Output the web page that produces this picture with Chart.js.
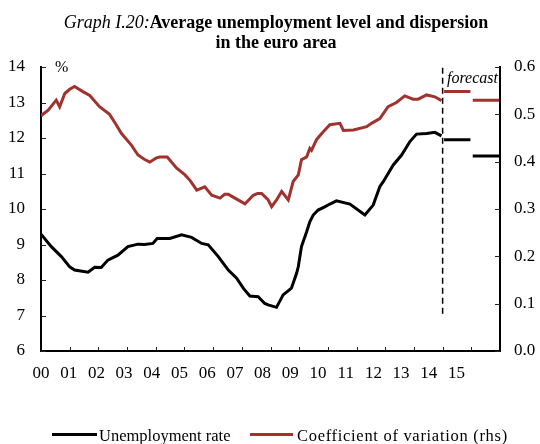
<!DOCTYPE html>
<html>
<head>
<meta charset="utf-8">
<script src="https://cdn.jsdelivr.net/npm/chart.js@4"></script>
<style>
  html, body { margin: 0; padding: 0; background: #fff; }
  canvas { display: block; }
</style>
</head>
<body>
<canvas id="chart" width="540" height="444"></canvas>
<script>
// years since 2000 (decimal)
const unempYears = [0, 0.36, 0.71, 1.0, 1.17, 1.64, 1.87, 2.1, 2.33, 2.68, 3.03, 3.38, 3.61, 3.9, 4.05, 4.49, 4.9, 5.25, 5.6, 5.83, 6.18, 6.53, 6.82, 7.05, 7.28, 7.57, 7.8, 7.92, 8.21, 8.44, 8.73, 8.91, 8.97, 9.08, 9.26, 9.37, 9.49, 9.66, 9.89, 10.07, 10.3, 10.77, 11.29, 11.58, 11.81, 11.93, 12.28, 12.57, 12.86, 13.09, 13.44, 13.73, 13.96];
const unempRate = [9.29, 8.94, 8.66, 8.37, 8.28, 8.22, 8.36, 8.35, 8.56, 8.70, 8.94, 9.01, 9.0, 9.03, 9.17, 9.17, 9.27, 9.2, 9.03, 8.99, 8.66, 8.28, 8.05, 7.77, 7.55, 7.53, 7.34, 7.30, 7.23, 7.58, 7.77, 8.19, 8.38, 8.94, 9.36, 9.64, 9.83, 9.97, 10.06, 10.14, 10.23, 10.14, 9.83, 10.11, 10.63, 10.77, 11.24, 11.52, 11.90, 12.11, 12.13, 12.16, 12.06];

const cvYears = [0, 0.25, 0.53, 0.65, 0.83, 1.0, 1.17, 1.46, 1.7, 2.04, 2.39, 2.6, 2.8, 3.15, 3.38, 3.6, 3.79, 4.02, 4.15, 4.4, 4.73, 5.02, 5.2, 5.43, 5.71, 5.95, 6.24, 6.4, 6.53, 6.76, 7.11, 7.4, 7.55, 7.69, 7.92, 8.04, 8.2, 8.39, 8.62, 8.79, 8.97, 9.08, 9.26, 9.37, 9.43, 9.61, 9.84, 10.07, 10.42, 10.54, 10.89, 11.35, 11.55, 11.81, 12.1, 12.39, 12.68, 12.97, 13.15, 13.44, 13.73, 13.96];
const cvValues = [0.497, 0.509, 0.530, 0.516, 0.544, 0.553, 0.559, 0.548, 0.540, 0.516, 0.500, 0.480, 0.460, 0.435, 0.414, 0.405, 0.399, 0.408, 0.410, 0.410, 0.386, 0.372, 0.360, 0.340, 0.347, 0.329, 0.323, 0.331, 0.331, 0.323, 0.311, 0.329, 0.333, 0.333, 0.319, 0.305, 0.318, 0.337, 0.319, 0.358, 0.372, 0.404, 0.410, 0.428, 0.424, 0.447, 0.463, 0.478, 0.481, 0.466, 0.467, 0.474, 0.482, 0.491, 0.516, 0.525, 0.539, 0.532, 0.532, 0.541, 0.537, 0.529];

// annual forecasts for 2014 and 2015
const forecastYears = [14, 15];
const forecastUnemp = [11.95, 11.49];
const forecastCv = [0.548, 0.530];
const forecastMarkerRange = [7.05, 14];

const yearLabels = ['00', '01', '02', '03', '04', '05', '06', '07', '08', '09', '10', '11', '12', '13', '14', '15'];

const SERIF = '"Liberation Serif", "Times New Roman", serif';
const RED = '#a0332f';

function toPoints(xs, ys) {
  return xs.map((x, i) => ({ x: x, y: ys[i] }));
}

function forecastPoints(vals) {
  const out = [];
  forecastYears.forEach((yr, i) => {
    out.push({ x: yr + 0.05, y: vals[i] }, { x: yr + 0.97, y: vals[i] }, { x: yr + 1, y: null });
  });
  return out;
}

const extras = {
  id: 'extras',
  afterDraw(chart) {
    const { ctx, chartArea: a, scales } = chart;
    ctx.save();

    // inward tick marks
    ctx.strokeStyle = '#222';
    ctx.lineWidth = 1;
    ctx.beginPath();
    scales.y.ticks.forEach(t => {
      const py = Math.round(scales.y.getPixelForValue(t.value)) + 0.5;
      ctx.moveTo(a.left, py); ctx.lineTo(a.left + 5, py);
    });
    scales.y2.ticks.forEach(t => {
      const py = Math.round(scales.y2.getPixelForValue(t.value)) + 0.5;
      ctx.moveTo(a.right - 5, py); ctx.lineTo(a.right, py);
    });
    scales.x.ticks.forEach(t => {
      if (t.value <= 0 || t.value >= 16) return;
      const px = Math.round(scales.x.getPixelForValue(t.value)) + 0.5;
      ctx.moveTo(px, a.bottom); ctx.lineTo(px, a.bottom - 4);
    });
    ctx.stroke();

    ctx.fillStyle = '#000';
    ctx.textBaseline = 'alphabetic';

    // title
    const part1 = 'Graph I.20:';
    const part2 = 'Average unemployment level and dispersion';
    ctx.font = 'italic 18px ' + SERIF;
    const w1 = ctx.measureText(part1).width;
    ctx.font = 'bold 18px ' + SERIF;
    const w2 = ctx.measureText(part2).width;
    const x0 = 276 - (w1 + w2) / 2;
    ctx.textAlign = 'left';
    ctx.font = 'italic 18px ' + SERIF;
    ctx.fillText(part1, x0, 28);
    ctx.font = 'bold 18px ' + SERIF;
    ctx.fillText(part2, x0 + w1, 28);
    ctx.textAlign = 'center';
    ctx.fillText('in the euro area', 276, 47.5);

    // unit and forecast notes
    ctx.textAlign = 'left';
    ctx.font = '16px ' + SERIF;
    ctx.fillText('%', 55, 72);
    ctx.font = 'italic 16px ' + SERIF;
    ctx.fillText('forecast', 447, 83);

    // legend
    ctx.font = '16.5px ' + SERIF;
    ctx.lineWidth = 3;
    ctx.strokeStyle = '#000';
    ctx.beginPath(); ctx.moveTo(52, 434.5); ctx.lineTo(97, 434.5); ctx.stroke();
    ctx.fillText('Unemployment rate', 99, 441);
    ctx.strokeStyle = RED;
    ctx.beginPath(); ctx.moveTo(250, 434.5); ctx.lineTo(293, 434.5); ctx.stroke();
    ctx.letterSpacing = '0.7px';
    ctx.fillText('Coefficient of variation (rhs)', 297, 441);

    ctx.restore();
  }
};

const tickFont = { family: SERIF, size: 17 };

new Chart(document.getElementById('chart'), {
  type: 'line',
  data: {
    datasets: [
      {
        label: 'Unemployment rate',
        data: toPoints(unempYears, unempRate),
        borderColor: '#000', borderWidth: 3, pointRadius: 0, tension: 0,
        xAxisID: 'x', yAxisID: 'y'
      },
      {
        label: 'Coefficient of variation (rhs)',
        data: toPoints(cvYears, cvValues),
        borderColor: RED, borderWidth: 3, pointRadius: 0, tension: 0,
        xAxisID: 'x', yAxisID: 'y2'
      },
      {
        label: 'Unemployment forecast',
        data: forecastPoints(forecastUnemp),
        borderColor: '#000', borderWidth: 3, pointRadius: 0, spanGaps: false,
        xAxisID: 'x', yAxisID: 'y'
      },
      {
        label: 'CV forecast',
        data: forecastPoints(forecastCv),
        borderColor: RED, borderWidth: 3, pointRadius: 0, spanGaps: false,
        xAxisID: 'x', yAxisID: 'y2'
      },
      {
        label: 'forecast start',
        data: forecastMarkerRange.map(v => ({ x: forecastYears[0], y: v })),
        borderColor: '#000', borderWidth: 1.5, borderDash: [6, 4], pointRadius: 0,
        xAxisID: 'x', yAxisID: 'y'
      }
    ]
  },
  options: {
    responsive: false,
    animation: false,
    devicePixelRatio: 1,
    layout: { padding: { top: 67, left: 0, right: 0, bottom: 0 } },
    plugins: { legend: { display: false }, tooltip: { enabled: false } },
    scales: {
      x: {
        type: 'linear', position: 'bottom', min: 0, max: 16, weight: 0,
        ticks: { stepSize: 1, display: false },
        grid: { drawOnChartArea: false, drawTicks: false },
        border: { color: '#000', width: 2 },
        afterFit: s => { s.height = 0; }
      },
      xl: {
        type: 'linear', position: 'bottom', min: 0, max: 16.57, weight: 1,
        ticks: {
          stepSize: 1, autoSkip: false, maxRotation: 0, padding: 4,
          color: '#000', font: tickFont,
          callback: v => yearLabels[v] ?? ''
        },
        grid: { display: false },
        border: { display: false },
        afterFit: s => { s.height = 93; }
      },
      y: {
        position: 'left', min: 6, max: 14,
        ticks: { stepSize: 1, padding: 16, color: '#000', font: tickFont },
        grid: { drawOnChartArea: false, drawTicks: false },
        border: { color: '#000', width: 2 },
        afterFit: s => { s.width = 41; }
      },
      y2: {
        position: 'right', min: 0, max: 0.6,
        ticks: { stepSize: 0.1, padding: 14, color: '#000', font: tickFont, callback: v => v.toFixed(1) },
        grid: { drawOnChartArea: false, drawTicks: false },
        border: { color: '#000', width: 2 },
        afterFit: s => { s.width = 40; }
      }
    }
  },
  plugins: [extras]
});
</script>
</body>
</html>
